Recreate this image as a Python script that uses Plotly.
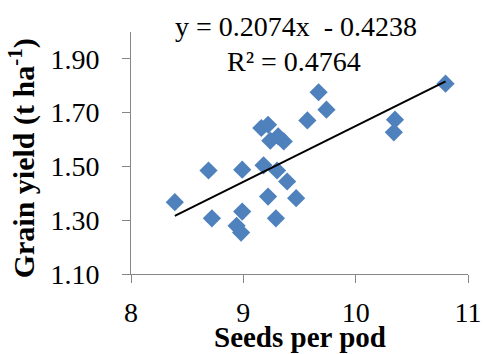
import plotly.graph_objects as go

# Data
seeds_per_pod = [8.39, 8.69, 8.72, 8.99, 8.99, 8.94, 8.98, 9.18, 9.16, 9.22, 9.24, 9.31,
                 9.36, 9.30, 9.22, 9.39, 9.29, 9.47, 9.57, 9.67, 9.74, 10.35, 10.34, 10.80]
grain_yield = [1.367, 1.485, 1.307, 1.488, 1.332, 1.279, 1.254, 1.504, 1.643, 1.655, 1.596, 1.612,
               1.593, 1.485, 1.388, 1.444, 1.307, 1.382, 1.671, 1.776, 1.711, 1.674, 1.627, 1.808]

slope = 0.2074
intercept = -0.4238
r_squared = 0.4764

x_ticks = [8, 9, 10, 11]
y_ticks = [1.10, 1.30, 1.50, 1.70, 1.90]
y_tick_labels = ["1.10", "1.30", "1.50", "1.70", "1.90"]

x_title = "Seeds per pod"
y_title = "Grain yield (t ha<sup>-1</sup>)"

x_line = [min(seeds_per_pod), max(seeds_per_pod)]
y_line = [slope * x + intercept for x in x_line]

font_family = "Liberation Serif, Times New Roman, serif"

fig = go.Figure()
fig.add_trace(go.Scatter(
    x=seeds_per_pod, y=grain_yield, mode="markers",
    marker=dict(symbol="diamond", size=14, color="#4F81BD", line=dict(width=0)),
    showlegend=False,
))
fig.add_trace(go.Scatter(
    x=x_line, y=y_line, mode="lines",
    line=dict(color="black", width=2),
    showlegend=False,
))

fig.add_annotation(
    text=f"y = {slope}x  - {abs(intercept)}",
    xref="paper", yref="paper", x=0.49, y=1.021, xanchor="center", yanchor="middle",
    showarrow=False, font=dict(family=font_family, size=28, color="black"),
)
fig.add_annotation(
    text=f"R² = {r_squared}",
    xref="paper", yref="paper", x=0.485, y=0.880, xanchor="center", yanchor="middle",
    showarrow=False, font=dict(family=font_family, size=28, color="black"),
)
# Axis titles
fig.add_annotation(
    text=f"<b>{x_title}</b>",
    xref="paper", yref="paper", x=0.5, y=-0.262, xanchor="center", yanchor="middle",
    showarrow=False, font=dict(family=font_family, size=29, color="black"),
)
fig.add_annotation(
    text=f"<b>{y_title}</b>", textangle=-90,
    xref="paper", yref="paper", x=-0.322, y=0.48, xanchor="center", yanchor="middle",
    showarrow=False, font=dict(family=font_family, size=30, color="black"),
)

axis_color = "#868686"
fig.update_xaxes(
    range=[8, 11], tickvals=x_ticks, ticktext=[str(v) for v in x_ticks],
    showline=True, linecolor=axis_color, linewidth=1,
    ticks="outside", ticklen=8, tickcolor=axis_color,
    showgrid=False, zeroline=False, ticklabelstandoff=5, automargin=False,
    tickfont=dict(family=font_family, size=28, color="black"),
)
fig.update_yaxes(
    range=[1.10, 2.00], tickvals=y_ticks, ticktext=y_tick_labels,
    showline=True, linecolor=axis_color, linewidth=1,
    ticks="outside", ticklen=8, tickcolor=axis_color,
    showgrid=False, zeroline=False, ticklabelstandoff=17, automargin=False,
    tickfont=dict(family=font_family, size=28, color="black"),
)

fig.update_layout(
    width=483, height=354,
    margin=dict(l=131, r=15, t=32, b=80),
    plot_bgcolor="white", paper_bgcolor="white",
)

fig.write_html("out.html")
